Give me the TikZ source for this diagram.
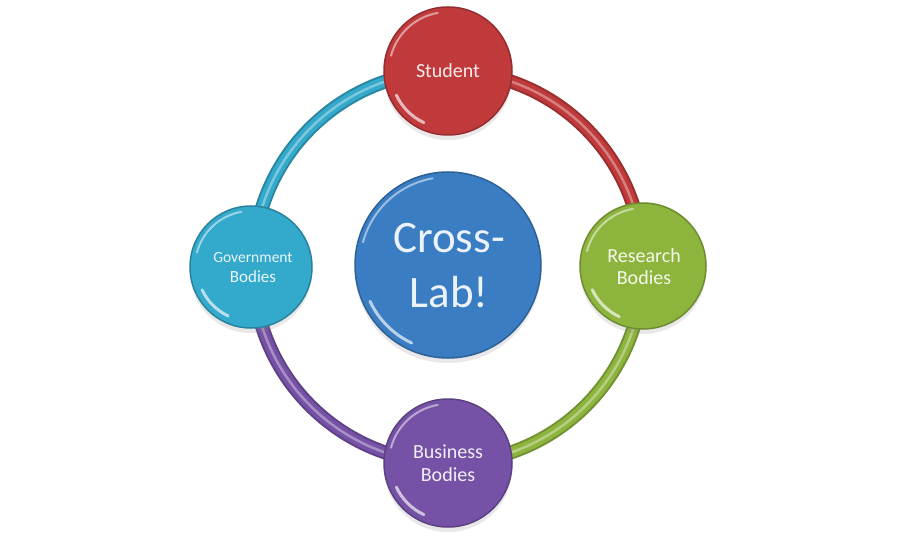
\documentclass[tikz,border=0pt]{standalone}
\usepackage{fontspec}
\setmainfont{Carlito}
\usetikzlibrary{shadows}
\definecolor{cred}{HTML}{C0393B}
\definecolor{ccyan}{HTML}{33A9CB}
\definecolor{cgreen}{HTML}{8DB53E}
\definecolor{cpurple}{HTML}{7652A6}
\definecolor{cblue}{HTML}{3A7DC2}
\tikzset{
  ball/.style={circle, fill=#1, draw=#1!78!black, line width=1.5pt, inner sep=0pt,
    drop shadow={opacity=0.18, shadow xshift=0pt, shadow yshift=-5pt}},
  tube/.style={line width=14pt, draw=#1!80!black,
    postaction={draw=#1, line width=10pt},
    postaction={draw=#1!35!white, line width=2.5pt, opacity=0.55}},
  lbl/.style={anchor=base, inner sep=0pt, text=white!90!#1},
  hiA/.style={white, opacity=0.5, line width=2pt, line cap=round},
  hiB/.style={white, opacity=0.65, line width=3pt, line cap=round},
}
\newcommand\glossit[2]{%
  \begin{scope}[shift={(#1.center)}, y=1pt]
    \draw[hiA] (100:#2-5) arc[start angle=100, end angle=165, radius=#2-5];
    \draw[hiB] (205:#2-7) arc[start angle=205, end angle=245, radius=#2-7];
  \end{scope}}
\begin{document}
\begin{tikzpicture}[x=1pt,y=-1pt]
\useasboundingbox (0,0) rectangle (900,540);
\fill[white] (0,0) rectangle (900,540);

% ring anchor points (centres of the outer balls)
\coordinate (cstu) at (448,71);
\coordinate (cres) at (643,267);
\coordinate (cbus) at (448,463);
\coordinate (cgov) at (253,267);

\draw[tube=cred]    (cstu) to[bend left=45] (cres);
\draw[tube=cgreen]  (cres) to[bend left=45] (cbus);
\draw[tube=cpurple] (cbus) to[bend left=45] (cgov);
\draw[tube=ccyan]   (cgov) to[bend left=45] (cstu);

\node[ball=cred,    minimum size=128pt] (stu) at (448,71) {};
\node[ball=cgreen,  minimum size=126pt] (res) at (643,266) {};
\node[ball=cpurple, minimum size=128pt] (bus) at (448,463) {};
\node[ball=ccyan,   minimum size=122pt] (gov) at (251,267) {};
\node[ball=cblue,   minimum size=186pt] (lab) at (448,265) {};

\glossit{stu}{64}
\glossit{res}{63}
\glossit{bus}{64}
\glossit{gov}{61}
\glossit{lab}{93}

\node[lbl=cred, font=\fontsize{20}{24}\selectfont] (tstu) at (448,78) {Student};
\node[lbl=cgreen, font=\fontsize{20}{24}\selectfont] (tres1) at (644,262) {Research};
\node[lbl=cgreen, font=\fontsize{20}{24}\selectfont] (tres2) at (644,284) {Bodies};
\node[lbl=cpurple, font=\fontsize{20}{24}\selectfont] (tbus1) at (448,458) {Business};
\node[lbl=cpurple, font=\fontsize{20}{24}\selectfont] (tbus2) at (448,481) {Bodies};
\node[lbl=ccyan, font=\fontsize{15.5}{19}\selectfont] (tgov1) at (253,262) {Government};
\node[lbl=ccyan, font=\fontsize{17}{20}\selectfont] (tgov2) at (253,283) {Bodies};
\node[lbl=cblue, font=\fontsize{45}{54}\selectfont] (tlab1) at (449,253) {Cross-};
\node[lbl=cblue, font=\fontsize{45}{54}\selectfont] (tlab2) at (449,307) {Lab!};
\end{tikzpicture}
\end{document}
